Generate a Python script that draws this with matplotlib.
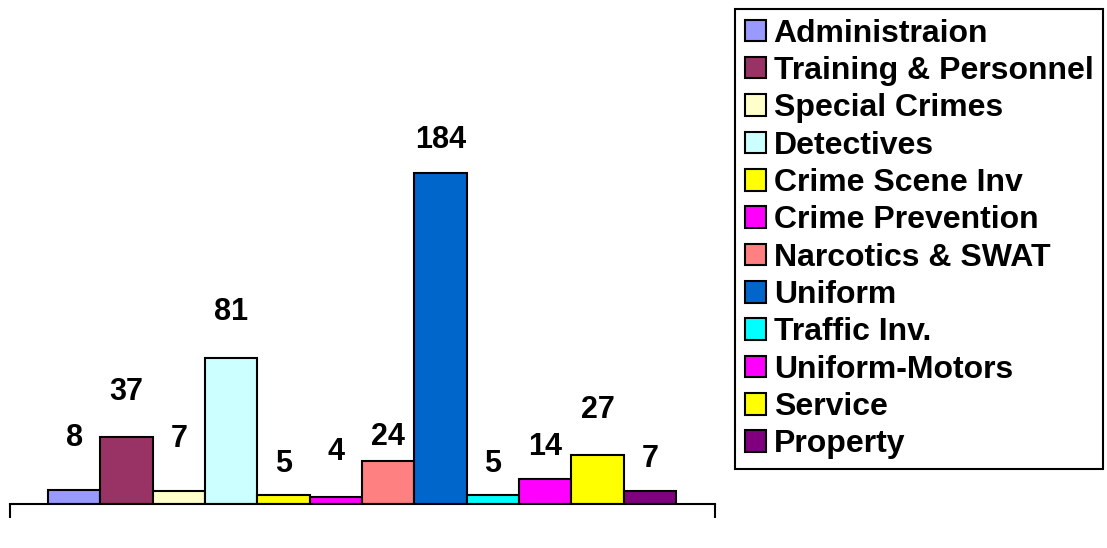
import matplotlib.pyplot as plt
import numpy as np

plt.rcParams['font.family'] = ['Liberation Sans', 'DejaVu Sans']

units = ['Administraion', 'Training & Personnel', 'Special Crimes', 'Detectives',
         'Crime Scene Inv', 'Crime Prevention', 'Narcotics & SWAT', 'Uniform',
         'Traffic Inv.', 'Uniform-Motors', 'Service', 'Property']
counts = [8, 37, 7, 81, 5, 4, 24, 184, 5, 14, 27, 7]
colors = ['#9999FF', '#993366', '#FFFFCC', '#CCFFFF', '#FFFF00', '#FF00FF',
          '#FF8080', '#0066CC', '#00FFFF', '#FF00FF', '#FFFF00', '#800080']
# vertical gap (pixels) between bar top and label centre, as placed in the original
label_gap = [52, 45, 52, 46, 31, 45, 24, 33, 31, 32, 45, 32]

fig = plt.figure(figsize=(11.07, 5.48), dpi=100)
ax = fig.add_axes([10 / 1107, 44 / 548, 705 / 1107, 360 / 548])

x = np.arange(len(counts))
for i in range(len(counts)):
    ax.bar(x[i], counts[i], width=1.0, color=colors[i], edgecolor='black',
           linewidth=1.5, label=units[i])
    ax.annotate(str(counts[i]), (x[i], counts[i]), xytext=(0, label_gap[i]),
                textcoords='offset pixels', ha='center', va='center',
                fontsize=22, fontweight='bold')

x0, x1 = -1.226, 12.245
ax.set_xlim(x0, x1)
ax.set_ylim(0, 200)
for s in ['top', 'right', 'left']:
    ax.spines[s].set_visible(False)
ax.spines['bottom'].set_linewidth(1.5)
ax.set_yticks([])
ax.set_xticks([x0, x1])
ax.set_xticklabels(['', ''])
ax.tick_params(axis='x', direction='out', length=10, width=1.5)

leg = fig.legend(loc='upper left', bbox_to_anchor=(735 / 1107, 1 - 9 / 548),
                 prop={'weight': 'bold', 'size': 23}, frameon=True, fancybox=False,
                 framealpha=1, edgecolor='black', borderaxespad=0,
                 handlelength=0.66, handleheight=0.66, handletextpad=0.25,
                 labelspacing=0.23, borderpad=0.3)
leg.get_frame().set_linewidth(1.5)
for h in leg.legend_handles:
    h.set_linewidth(1.5)

fig.savefig('out.png', dpi=100)
